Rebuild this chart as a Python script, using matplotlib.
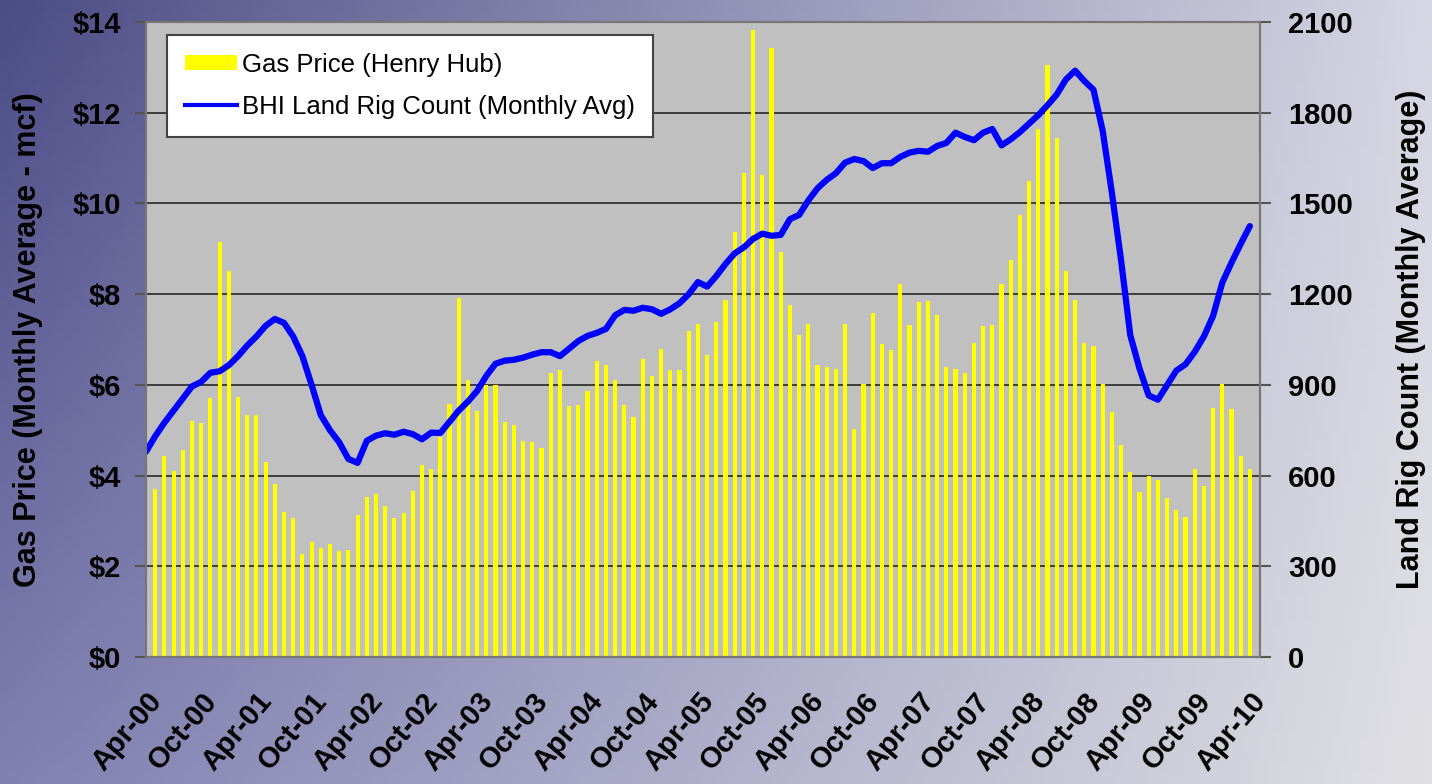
import numpy as np
import matplotlib
matplotlib.use('Agg')
import matplotlib.pyplot as plt
from matplotlib.patches import Patch
from matplotlib.lines import Line2D

plt.rcParams['font.family'] = ['Liberation Sans', 'DejaVu Sans']

# x axis labels, every six months
tick_labels = ['Apr-00', 'Oct-00', 'Apr-01', 'Oct-01', 'Apr-02', 'Oct-02', 'Apr-03',
               'Oct-03', 'Apr-04', 'Oct-04', 'Apr-05', 'Oct-05', 'Apr-06', 'Oct-06',
               'Apr-07', 'Oct-07', 'Apr-08', 'Oct-08', 'Apr-09', 'Oct-09', 'Apr-10']

# Henry Hub monthly average gas price, $/mcf, May-00 .. Apr-10
gas_price = [3.71, 4.44, 4.10, 4.56, 5.20, 5.17, 5.70, 9.15, 8.51, 5.74, 5.34, 5.34,
             4.30, 3.82, 3.20, 3.07, 2.27, 2.53, 2.40, 2.50, 2.33, 2.37, 3.13, 3.52,
             3.60, 3.34, 3.07, 3.17, 3.66, 4.23, 4.14, 4.85, 5.58, 7.91, 6.10, 5.43,
             5.99, 5.99, 5.19, 5.12, 4.76, 4.73, 4.60, 6.27, 6.33, 5.54, 5.55, 5.86,
             6.52, 6.43, 6.10, 5.55, 5.29, 6.56, 6.20, 6.79, 6.33, 6.33, 7.18, 7.35,
             6.65, 7.38, 7.86, 9.36, 10.66, 13.82, 10.63, 13.42, 8.92, 7.75, 7.09, 7.35,
             6.43, 6.40, 6.34, 7.35, 5.03, 6.02, 7.59, 6.89, 6.77, 8.23, 7.32, 7.82,
             7.84, 7.55, 6.40, 6.36, 6.27, 6.93, 7.29, 7.32, 8.23, 8.76, 9.74, 10.50,
             11.65, 13.06, 11.45, 8.51, 7.86, 6.93, 6.86, 6.01, 5.40, 4.67, 4.07, 3.63,
             3.98, 3.91, 3.50, 3.23, 3.08, 4.14, 3.77, 5.49, 6.01, 5.47, 4.44, 4.14]

# BHI land rig count, monthly average, Apr-00 .. Apr-10
rig_count = [679, 730, 775, 815, 855, 895, 910, 940, 945, 965, 995, 1030,
             1060, 1095, 1118, 1105, 1060, 995, 900, 800, 750, 710, 655, 642,
             715, 732, 740, 735, 745, 737, 720, 742, 741, 778, 815, 845,
             880, 930, 970, 980, 983, 990, 1000, 1008, 1008, 995, 1020, 1045,
             1062, 1072, 1085, 1130, 1148, 1145, 1155, 1150, 1135, 1150, 1170, 1200,
             1240, 1225, 1260, 1300, 1335, 1355, 1383, 1400, 1393, 1396, 1448, 1462,
             1510, 1550, 1578, 1600, 1635, 1647, 1640, 1617, 1633, 1633, 1654, 1668,
             1674, 1671, 1690, 1700, 1734, 1720, 1709, 1734, 1746, 1692, 1712, 1736,
             1764, 1792, 1825, 1860, 1910, 1939, 1905, 1876, 1740, 1535, 1311, 1064,
             954, 865, 851, 899, 947, 968, 1009, 1060, 1128, 1238, 1304, 1366, 1425]

months = np.arange(len(rig_count))
bar_x = months[1:]

fig = plt.figure(figsize=(14.32, 7.84), dpi=100)

# background gradient
bg = fig.add_axes([0, 0, 1, 1], zorder=-10)
tl, tr = np.array([0x4c, 0x4c, 0x86]), np.array([0xd6, 0xd6, 0xe4])
bl, br = np.array([0x80, 0x80, 0xb2]), np.array([0xe0, 0xe0, 0xe4])
u = np.linspace(0, 1, 200)[None, :, None]
v = np.linspace(0, 1, 120)[:, None, None]
grad = (1 - v) * ((1 - u) * tl + u * tr) + v * ((1 - u) * bl + u * br)
bg.imshow(grad / 255.0, aspect='auto', extent=[0, 1, 0, 1], origin='upper')
bg.axis('off')

ax = fig.add_axes([146 / 1432, 1 - 657 / 784, (1260 - 146) / 1432, (657 - 22) / 784])
ax.set_facecolor('#c0c0c0')
ax.bar(bar_x, gas_price, width=0.45, color='#ffff00', zorder=2)
ax.set_axisbelow(True)
ax.yaxis.grid(True, color='#333333', lw=1.3)
ax.set_xlim(0, 121.1)
ax.set_ylim(0, 14)
ax.set_yticks(np.arange(0, 15, 2))
ax.set_yticklabels(['$%d' % v for v in range(0, 15, 2)], fontsize=21, fontweight='bold')
ax.set_ylabel('Gas Price (Monthly Average - mcf)', fontsize=22, fontweight='bold', labelpad=21)

ax.set_xticks(np.arange(0, 121, 6))
ax.set_xticklabels(tick_labels, rotation=50, ha='right', va='top', rotation_mode='anchor',
                   fontsize=21, fontweight='bold')
ax.set_xticks(np.arange(0, 121, 12), minor=True)
ax.tick_params(axis='x', which='major', length=0, pad=22)
ax.tick_params(axis='x', which='minor', length=8, color='#555555', width=1.5)
ax.tick_params(axis='y', length=8, color='#555555', width=1.5, pad=10)
for s in ax.spines.values():
    s.set_color('#777777')
    s.set_linewidth(1.5)

ax2 = ax.twinx()
ax2.plot(months, rig_count, color='#0000ff', lw=4.5, solid_joinstyle='round', solid_capstyle='round')
ax2.set_ylim(0, 2100)
ax2.set_yticks(np.arange(0, 2101, 300))
ax2.set_yticklabels([str(v) for v in range(0, 2101, 300)], fontsize=21, fontweight='bold')
ax2.tick_params(axis='y', length=8, color='#555555', width=1.5, pad=12)
ax2.set_ylabel('Land Rig Count (Monthly Average)', fontsize=22, fontweight='bold', labelpad=31)
for s in ax2.spines.values():
    s.set_color('#777777')
    s.set_linewidth(1.5)

handles = [Patch(facecolor='#ffff00', edgecolor='none'),
           Line2D([], [], color='#0000ff', lw=3)]
leg = ax2.legend(handles, ['Gas Price (Henry Hub)', 'BHI Land Rig Count (Monthly Avg)'],
                 loc='upper left', bbox_to_anchor=(0.019, 0.98), borderaxespad=0,
                 fancybox=False, edgecolor='#444444', framealpha=1, fontsize=18.5,
                 handlelength=2.0, handleheight=0.5, handletextpad=0.2,
                 labelspacing=0.7, borderpad=0.7)
leg.get_frame().set_linewidth(1.5)

fig.savefig('out.png', dpi=100)
